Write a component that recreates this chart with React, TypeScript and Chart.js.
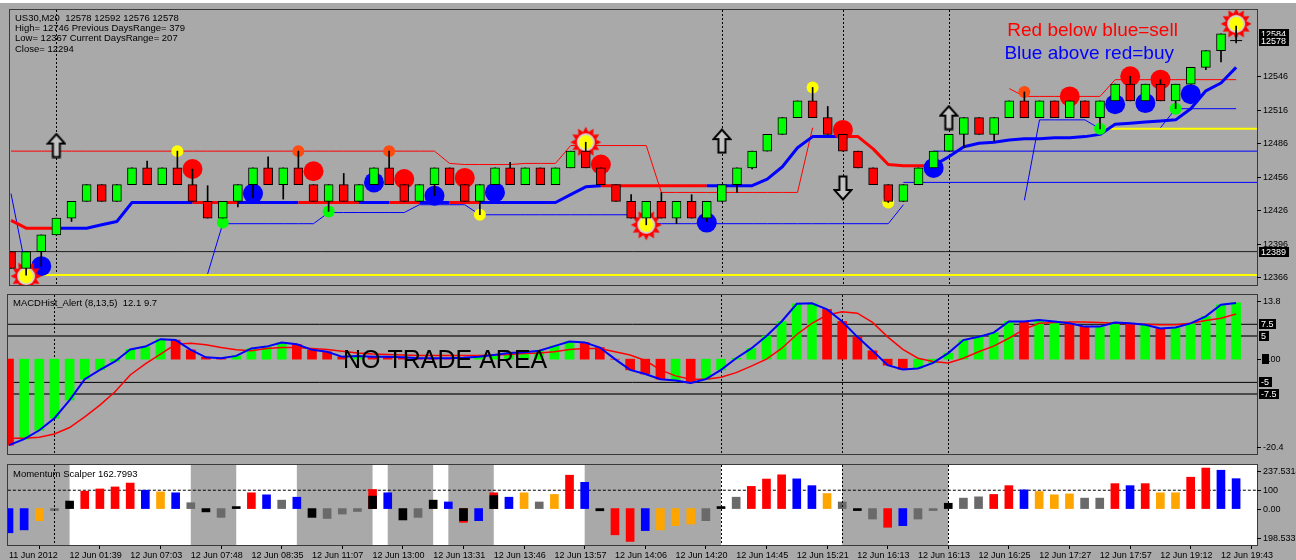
import React, { useEffect, useRef } from 'react';
import { Chart, registerables } from 'chart.js';

Chart.register(...registerables);

// ---------------- data ----------------
const candleOpen = [
  12389, 12374, 12389, 12404, 12419, 12434, 12449, 12434, 12449, 12464,
  12449, 12464, 12449, 12434, 12419, 12434, 12449, 12464, 12449, 12464,
  12449, 12434, 12449, 12434, 12449, 12464, 12449, 12434, 12449, 12464,
  12449, 12434, 12449, 12464, 12449, 12464, 12449, 12464, 12479, 12464,
  12449, 12434, 12419, 12434, 12419, 12434, 12419, 12434, 12449, 12464,
  12479, 12494, 12509, 12524, 12509, 12494, 12479, 12464, 12449, 12434,
  12449, 12464, 12479, 12494, 12509, 12494, 12509, 12524, 12509, 12524,
  12509, 12524, 12509, 12524, 12539, 12524, 12539, 12524, 12539, 12554,
  12569, 12578,
];
const candleClose = [
  12374, 12389, 12404, 12419, 12434, 12449, 12434, 12449, 12464, 12449,
  12464, 12449, 12434, 12419, 12434, 12449, 12464, 12449, 12464, 12449,
  12434, 12449, 12434, 12449, 12464, 12449, 12434, 12449, 12464, 12449,
  12434, 12449, 12464, 12449, 12464, 12449, 12464, 12479, 12464, 12449,
  12434, 12419, 12434, 12419, 12434, 12419, 12434, 12449, 12464, 12479,
  12494, 12509, 12524, 12509, 12494, 12479, 12464, 12449, 12434, 12449,
  12464, 12479, 12494, 12509, 12494, 12509, 12524, 12509, 12524, 12509,
  12524, 12509, 12524, 12539, 12524, 12539, 12524, 12539, 12554, 12569,
  12584, 12578,
];
const candleHigh = [
  12389, 12389, 12404, 12419, 12434, 12449, 12449, 12449, 12464, 12470,
  12464, 12479, 12463, 12448, 12434, 12449, 12464, 12474, 12464, 12479,
  12449, 12449, 12459, 12449, 12464, 12479, 12449, 12449, 12464, 12464,
  12449, 12449, 12464, 12469, 12464, 12464, 12464, 12479, 12487, 12464,
  12449, 12440, 12434, 12442, 12434, 12440, 12434, 12449, 12464, 12479,
  12494, 12509, 12524, 12536, 12519, 12494, 12479, 12464, 12449, 12449,
  12464, 12479, 12494, 12509, 12509, 12509, 12524, 12532, 12524, 12524,
  12524, 12524, 12524, 12539, 12546, 12539, 12543, 12539, 12554, 12569,
  12584, 12591,
];
const candleLow = [
  12374, 12368, 12376, 12404, 12416, 12434, 12434, 12434, 12449, 12449,
  12449, 12449, 12434, 12419, 12419, 12429, 12437, 12449, 12436, 12449,
  12434, 12425, 12434, 12434, 12449, 12449, 12434, 12434, 12439, 12449,
  12434, 12422, 12449, 12449, 12449, 12449, 12449, 12464, 12464, 12449,
  12434, 12419, 12413, 12419, 12414, 12419, 12416, 12434, 12442, 12463,
  12479, 12494, 12509, 12509, 12494, 12479, 12464, 12449, 12433, 12434,
  12449, 12464, 12479, 12482, 12494, 12488, 12509, 12509, 12509, 12509,
  12509, 12509, 12499, 12524, 12524, 12524, 12524, 12517, 12539, 12552,
  12559, 12576,
];
const trendLine = [
  12417, 12410, 12410, 12410, 12410, 12410, 12413, 12416, 12433, 12433,
  12433, 12433, 12433, 12433, 12433, 12433, 12433, 12433, 12433, 12433,
  12433, 12433, 12433, 12433, 12433, 12433, 12433, 12433, 12433, 12433,
  12433, 12433, 12433, 12433, 12433, 12433, 12433, 12440, 12447, 12448,
  12448, 12448, 12448, 12448, 12448, 12448, 12448, 12448, 12448, 12448,
  12454, 12465, 12482, 12492, 12492, 12492, 12492, 12481, 12467, 12466,
  12466, 12466, 12474, 12483, 12486, 12487, 12489, 12490, 12490, 12491,
  12491, 12492, 12494, 12503, 12504, 12505, 12506, 12507, 12517, 12533,
  12540, 12554,
];
// colour of each trend segment (bar i -> i+1): R red, B blue
const trendColor =
  'RRRBBBBBBB' + 'BBRRRBBBBR' + 'RRRBBRRBBR' + 'RBBBBBBBBR' + 'RRRRRRBBBB' +
  'BBBBBRRRRR' + 'RBBBBBBBBB' + 'BBBBBBBBBB' + 'BB';
const upperBand = [
  12479, 12479, 12479, 12479, 12479, 12479, 12479, 12479, 12479, 12479,
  12479, 12479, 12479, 12479, 12479, 12479, 12479, 12479, 12479, 12479,
  12479, 12479, 12479, 12479, 12479, 12479, 12479, 12479, 12479, 12468,
  12467, 12467, 12467, 12467, 12468, 12468, 12468, 12484, 12484, 12484,
  12484, 12484, 12484, 12442, 12442, 12442, 12442, 12442, 12442, 12442,
  12442, 12442, 12442, 12500, null, null, null, null, null, null,
  null, null, null, null, null, null, 12535, 12528, 12528, 12528,
  12528, 12528, 12528, 12543, 12543, 12543, 12543, 12543, 12543, 12543,
  12543, 12543,
];
const lowerBand = [
  12441, 12373, null, null, null, null, null, null, null, null,
  null, null, null, 12369, 12414, 12414, 12414, 12414, 12414, 12414,
  12414, 12424, 12424, 12424, 12424, 12424, 12424, 12431, 12431, 12431,
  12431, 12422, 12422, 12422, 12422, 12422, 12422, 12422, 12422, 12422,
  12422, 12422, 12414, 12414, 12414, 12414, 12414, 12414, 12414, 12414,
  12414, 12414, 12414, 12414, 12414, 12414, 12414, 12414, 12414, 12431,
  null, null, null, null, null, null, null, 12435, 12507, 12507,
  12507, 12507, 12499, null, null, null, 12500, 12517, 12517, 12517,
  12517, 12517,
];
const hLinePrice = [12389, 12368, 12499, 12451, 12479];
const hLineFromBar = [-1, 1, 72, 59, 61];
const redDotBars = [12, 20, 26, 30, 39, 55, 70, 74, 76];
const redDotPrice = [12463, 12461, 12454, 12455, 12467, 12498, 12528, 12546, 12543];
const blueDotBars = [2, 16, 24, 28, 32, 46, 61, 73, 75, 78];
const blueDotPrice = [12376, 12441, 12451, 12439, 12442, 12415, 12464, 12521, 12522, 12530];
const yellowDotBars = [11, 31, 53, 58];
const yellowDotPrice = [12479, 12422, 12536, 12433];
const orangeDotBars = [19, 25, 67];
const orangeDotPrice = [12479, 12479, 12532];
const greenDotBars = [14, 21, 72, 77];
const greenDotPrice = [12415, 12425, 12499, 12517];
const starBars = [1, 38, 42, 81];
const starPrice = [12367, 12487, 12413, 12593];
const upArrowBars = [3, 47, 62];
const upArrowPrice = [12484, 12488, 12509];
const downArrowBars = [55];
const downArrowPrice = [12446];
const priceTicks = [12366, 12396, 12426, 12456, 12486, 12516, 12546];
const priceTags = [12584, 12578, 12389];
const infoLines = [
  'US30,M20  12578 12592 12576 12578',
  'High= 12746 Previous DaysRange= 379',
  'Low= 12367 Current DaysRange= 207',
  'Close= 12294',
];

const macdMain = [
  -18.5, -17.2, -15.3, -12.7, -8.8, -4.3, -2.3, -0.5, 2.1, 2.7,
  4.3, 4.1, 2.0, 0.4, 0.2, 0.7, 2.3, 2.7, 3.6, 3.2,
  2.0, 1.6, 0.5, 0.7, 0.5, 0.5, 0.4, 0.2, 0.2, 0.2,
  0.3, 0.5, 0.9, 1.3, 1.5, 1.8, 2.8, 3.8, 3.6, 2.5,
  0.0, -2.3, -3.2, -4.3, -4.6, -5.1, -4.3, -2.3, 0.2, 2.3,
  5.0, 8.1, 11.9, 12.0, 10.7, 8.1, 4.8, 1.8, -1.3, -2.2,
  -2.0, -0.8, 1.3, 4.1, 4.8, 5.7, 8.1, 8.1, 8.4, 8.1,
  7.7, 7.0, 7.0, 7.9, 7.7, 7.4, 6.6, 6.8, 7.7, 9.2,
  11.7, 12.1,
];
const macdSignal = [
  -17.0, -17.0, -16.8, -16.1, -14.7, -12.4, -9.9, -7.0, -3.4, -1.0,
  1.1, 3.2, 3.4, 3.1, 2.5, 2.0, 1.8, 2.3, 2.5, 2.5,
  2.3, 2.1, 1.7, 1.3, 1.1, 1.0, 0.9, 0.8, 0.8, 0.8,
  0.8, 0.8, 0.9, 1.0, 1.2, 1.3, 1.6, 2.1, 2.3, 2.3,
  1.6, 0.9, -0.3, -2.3, -3.6, -4.3, -4.3, -3.9, -2.9, -1.5,
  0.0, 2.3, 5.3, 7.7, 9.5, 10.2, 9.9, 7.9, 4.8, 2.1,
  0.2, -0.5, -0.8, 0.2, 1.6, 2.8, 4.5, 6.4, 7.7, 7.9,
  8.0, 8.0, 7.9, 7.7, 7.6, 7.5, 7.4, 7.4, 7.7, 8.3,
  8.8, 9.7,
];
const macdHistColor =
  'RGGGGGGGGG' + 'GRRRRGGGGR' + 'RRRGRRRRRR' + 'GGGGGGGGRR' + 'RRRRGRGGGG' +
  'GGGGRRRRRR' + 'GGGGGGGRGG' + 'RRGGRGRGGG' + 'GG';
const macdLevels = [7.5, 5, -5, -7.5];
const macdTicks = [13.8, 0, -20.4];
const macdTickText = ['13.8', '0.00', '-20.4'];
const macdTitle = 'MACDHist_Alert (8,13,5)  12.1 9.7';

const momValue = [
  -132, -116, -66, -10, 41, 95, 107, 118, 139, 100,
  91, 86, 32, -18, -48, 8, 86, 75, 46, 62,
  -48, -54, -30, -16, 68, 86, -62, -48, 46, 36,
  -66, -66, 71, 62, 86, 36, 77, 182, 143, -12,
  -143, -179, -120, -116, -93, -84, -66, 5, 62, 121,
  161, 184, 162, 125, 82, 36, -5, -57, -102, -93,
  -57, -8, 29, 57, 64, 77, 125, 102, 93, 75,
  80, 57, 57, 136, 125, 136, 86, 86, 171, 221,
  209, 163,
];
// B blue, R red, O orange, G grey, K black
const momColor =
  'BBOGKRRRRB' + 'OBGKGKRBGB' + 'KGGGKBKGKB' + 'KBKBOGORBK' + 'RRBOOOGKGR' +
  'RRBBOGKGRB' + 'GGKGGRRBOO' + 'OGGRBROORR' + 'BB';
const momExtraBars = [24, 30, 32];
const momExtraValue = [104, -75, 86];
const momLevel = 100;
const momTicks = [237.5314, 100, 0, -198.533];
const momTickText = ['237.5314', '100', '0.00', '198.533'];
const momTitle = 'Momentum Scalper 162.7993';
const shadeFromBar = [4, 15, 24, 28, 32, 47, 62];
const shadeToBar = [12, 19, 25, 29, 38, 55, 83];

const timeTickBars = [0, 4, 8, 12, 16, 20, 24, 28, 32, 36, 40, 44, 48, 52, 56, 60, 64, 68, 72, 76, 80];
const timeLabels = [
  '11 Jun 2012', '12 Jun 01:39', '12 Jun 07:03', '12 Jun 07:48', '12 Jun 08:35',
  '12 Jun 11:07', '12 Jun 13:00', '12 Jun 13:31', '12 Jun 13:46', '12 Jun 13:57',
  '12 Jun 14:06', '12 Jun 14:20', '12 Jun 14:45', '12 Jun 15:21', '12 Jun 16:13',
  '12 Jun 16:13', '12 Jun 16:25', '12 Jun 17:27', '12 Jun 17:57', '12 Jun 19:12',
  '12 Jun 19:43',
];
const sessionBars = [3, 47, 55, 62];

// ---------------- styling / layout constants ----------------
const FONT = '"Liberation Sans", Arial, sans-serif';
const BG = '#a9a9a9';
const GREEN = '#00ff00';
const RED = '#ff0000';
const BLUE = '#0000ff';
const YELLOW = '#ffff00';
const X_MIN = -0.066;
const X_MAX = 82.38;
const hLineStyle = [
  { color: '#1e1e1e', width: 1 },
  { color: YELLOW, width: 2 },
  { color: YELLOW, width: 2 },
  { color: BLUE, width: 1 },
  { color: BLUE, width: 1 },
];
const macdLevelStyle = [
  { color: '#000000', width: 1 },
  { color: '#4a4a4a', width: 2 },
  { color: '#000000', width: 1 },
  { color: '#4a4a4a', width: 2 },
];
const topNotes = [
  { text: 'Red below blue=sell', bar: 65.87, value: 12581.8, color: RED, size: 19 },
  { text: 'Blue above red=buy', bar: 65.68, value: 12561.7, color: BLUE, size: 19 },
];
const macdNotes = [{ text: 'NO TRADE AREA', bar: 22.05, value: -1.96, color: '#000', size: 25 }];
const momColorMap: any = { B: BLUE, R: RED, O: '#ffa500', G: '#6a6a6a', K: '#000000' };

// ---------------- helpers ----------------
const pts = (bars: number[], vals: any[]) => bars.map((b, i) => ({ x: b, y: vals[i] }));
const series = (vals: any[]) => vals.map((v, i) => ({ x: i, y: v }));

function makeStar(): HTMLCanvasElement {
  const c = document.createElement('canvas');
  c.width = 32; c.height = 32;
  const g = c.getContext('2d')!;
  g.beginPath();
  const n = 12;
  for (let k = 0; k < n * 2; k++) {
    const ang = (k * Math.PI) / n - Math.PI / 2;
    const r = k % 2 === 0 ? 15.5 : 10.5;
    const px = 16 + r * Math.cos(ang), py = 16 + r * Math.sin(ang);
    if (k === 0) g.moveTo(px, py); else g.lineTo(px, py);
  }
  g.closePath();
  g.fillStyle = RED; g.fill();
  g.beginPath(); g.arc(16, 16, 9, 0, Math.PI * 2); g.fillStyle = '#d4d4d4'; g.fill();
  g.beginPath(); g.arc(16, 16, 7, 0, Math.PI * 2); g.fillStyle = YELLOW; g.fill();
  return c;
}

function makeArrow(up: boolean): HTMLCanvasElement {
  const c = document.createElement('canvas');
  c.width = 20; c.height = 26;
  const g = c.getContext('2d')!;
  const p = [[10, 1.5], [18.5, 11], [13.5, 11], [13.5, 24.5], [6.5, 24.5], [6.5, 11], [1.5, 11]];
  g.beginPath();
  p.forEach(([x, y], k) => {
    const yy = up ? y : 26 - y;
    if (k === 0) g.moveTo(x, yy); else g.lineTo(x, yy);
  });
  g.closePath();
  g.fillStyle = '#c4c4c4'; g.fill();
  g.lineWidth = 2; g.strokeStyle = '#000'; g.stroke();
  return c;
}

function drawAxisLabel(chart: any, value: number, text: string, mode: string) {
  const { ctx, chartArea: a } = chart;
  const y = chart.scales.y;
  let py = y.getPixelForValue(value);
  py = Math.min(Math.max(py, a.top + 6), a.bottom - 7);
  const ry = Math.round(py);
  ctx.save();
  ctx.font = `9px ${FONT}`;
  ctx.textBaseline = 'middle';
  ctx.textAlign = 'left';
  if (mode === 'box') {
    const w = ctx.measureText(text).width;
    ctx.fillStyle = '#000';
    ctx.fillRect(a.right + 2, ry - 5, Math.ceil(w) + 4, 10);
    ctx.fillStyle = '#fff';
    ctx.fillText(text, a.right + 4, ry + 0.5);
  } else {
    ctx.strokeStyle = '#000';
    ctx.lineWidth = 1;
    ctx.beginPath();
    ctx.moveTo(a.right, ry + 0.5);
    ctx.lineTo(a.right + 4, ry + 0.5);
    ctx.stroke();
    if (mode === 'zero') {
      const w0 = ctx.measureText('0').width;
      ctx.fillStyle = '#000';
      ctx.fillRect(a.right + 5, ry - 5, Math.ceil(w0) + 1, 10);
    }
    ctx.fillStyle = '#000';
    ctx.fillText(text, a.right + 6, ry + 0.5);
  }
  ctx.restore();
}

function framePlugin() {
  return {
    id: 'frame',
    afterDraw(chart: any) {
      const { ctx, chartArea: a } = chart;
      ctx.save();
      ctx.strokeStyle = '#3a3a3a';
      ctx.lineWidth = 1;
      ctx.strokeRect(Math.round(a.left) - 0.5, Math.round(a.top) - 0.5, Math.round(a.width) + 1, Math.round(a.height) + 1);
      ctx.restore();
    },
  };
}

function sessionPlugin(after: boolean) {
  const draw = (chart: any) => {
    const { ctx, chartArea: a } = chart;
    const x = chart.scales.x;
    ctx.save();
    ctx.beginPath();
    ctx.rect(a.left, a.top, a.width, a.height);
    ctx.clip();
    ctx.strokeStyle = '#000';
    ctx.lineWidth = 1;
    ctx.setLineDash([2, 2]);
    sessionBars.forEach((b) => {
      const px = Math.round(x.getPixelForValue(b)) + 0.5;
      ctx.beginPath();
      ctx.moveTo(px, a.top);
      ctx.lineTo(px, a.bottom);
      ctx.stroke();
    });
    ctx.restore();
  };
  return after ? { id: 'sessions', afterDatasetsDraw: draw } : { id: 'sessions', beforeDatasetsDraw: draw };
}

function notesPlugin(title: string[], notes: any[], titleDy: number) {
  return {
    id: 'notes',
    afterDraw(chart: any) {
      const { ctx, chartArea: a } = chart;
      const x = chart.scales.x, y = chart.scales.y;
      ctx.save();
      ctx.font = `9.5px ${FONT}`;
      ctx.fillStyle = '#000';
      ctx.textBaseline = 'middle';
      ctx.textAlign = 'left';
      title.forEach((t, k) => ctx.fillText(t, a.left + 5, a.top + titleDy + k * 10.3));
      notes.forEach((n) => {
        ctx.font = `${n.size}px ${FONT}`;
        ctx.fillStyle = n.color;
        ctx.textBaseline = 'alphabetic';
        ctx.fillText(n.text, x.getPixelForValue(n.bar), y.getPixelForValue(n.value));
      });
      ctx.restore();
    },
  };
}

const hiddenX = { type: 'linear', min: X_MIN, max: X_MAX, display: false, offset: false };
const common = {
  animation: false,
  responsive: false,
  devicePixelRatio: 1,
  events: [],
  plugins: { legend: { display: false }, tooltip: { enabled: false } },
};

function dotSet(bars: number[], vals: number[], color: string, r: number, order: number) {
  return {
    type: 'line', data: pts(bars, vals), showLine: false, order,
    pointRadius: r, pointHoverRadius: r, pointBackgroundColor: color, pointBorderColor: color, pointBorderWidth: 0,
  };
}

function topConfig(): any {
  const star = makeStar();
  const upA = makeArrow(true);
  const dnA = makeArrow(false);
  const bars = candleOpen.map((_, i) => i);
  const datasets: any[] = [];
  hLinePrice.forEach((p, k) => {
    datasets.push({
      type: 'line', data: [{ x: hLineFromBar[k], y: p }, { x: X_MAX + 1, y: p }],
      borderColor: hLineStyle[k].color, borderWidth: hLineStyle[k].width, pointRadius: 0, order: 40,
    });
  });
  datasets.push({ type: 'line', data: series(upperBand), borderColor: RED, borderWidth: 1, pointRadius: 0, order: 35 });
  datasets.push({ type: 'line', data: series(lowerBand), borderColor: BLUE, borderWidth: 1, pointRadius: 0, order: 35 });
  datasets.push({
    type: 'line', data: series(trendLine), borderColor: BLUE, borderWidth: 3, pointRadius: 0, order: 30,
    borderJoinStyle: 'round',
    segment: { borderColor: (c: any) => (trendColor[c.p0DataIndex] === 'R' ? RED : BLUE) },
  });
  datasets.push(dotSet(blueDotBars, blueDotPrice, BLUE, 10, 25));
  datasets.push(dotSet(redDotBars, redDotPrice, RED, 10, 25));
  datasets.push(dotSet(yellowDotBars, yellowDotPrice, YELLOW, 6, 20));
  datasets.push(dotSet(orangeDotBars, orangeDotPrice, '#ff4a10', 6, 20));
  datasets.push(dotSet(greenDotBars, greenDotPrice, GREEN, 6, 20));
  datasets.push({ type: 'line', data: pts(starBars, starPrice), showLine: false, pointStyle: star, pointRadius: 8, order: 18 });
  datasets.push({
    type: 'bar', data: bars.map((i) => ({ x: i, y: [candleLow[i], candleHigh[i]] })),
    backgroundColor: '#000', barThickness: 1, grouped: false, order: 10,
  });
  datasets.push({
    type: 'bar', data: bars.map((i) => ({ x: i, y: [candleOpen[i], candleClose[i]] })),
    backgroundColor: bars.map((i) => (candleClose[i] >= candleOpen[i] ? GREEN : RED)),
    borderColor: '#000', borderWidth: 1, borderSkipped: false, barThickness: 9, grouped: false, order: 8,
  });
  const dojiBars = bars.filter((i) => candleOpen[i] === candleClose[i]);
  datasets.push({
    type: 'line', data: dojiBars.map((i) => ({ x: i, y: candleClose[i] })), showLine: false,
    pointStyle: 'line', pointRadius: 6, pointBorderColor: '#000', pointBorderWidth: 1, order: 6,
  });
  datasets.push({ type: 'line', data: pts(upArrowBars, upArrowPrice), showLine: false, pointStyle: upA, pointRadius: 8, order: 2 });
  datasets.push({ type: 'line', data: pts(downArrowBars, downArrowPrice), showLine: false, pointStyle: dnA, pointRadius: 8, order: 2 });

  return {
    type: 'bar',
    data: { datasets },
    options: {
      ...common,
      layout: { padding: { left: 8, right: 39, top: 8, bottom: 2 } },
      scales: {
        x: hiddenX,
        y: { type: 'linear', min: 12359.1, max: 12605.4, display: false },
      },
    },
    plugins: [
      sessionPlugin(false),
      framePlugin(),
      notesPlugin(infoLines, topNotes, 8),
      {
        id: 'axis',
        afterDraw(chart: any) {
          priceTicks.forEach((v) => drawAxisLabel(chart, v, String(v), 'plain'));
          priceTags.forEach((v) => drawAxisLabel(chart, v, String(v), 'box'));
        },
      },
    ],
  };
}

function macdConfig(): any {
  const bars = macdMain.map((_, i) => i);
  const datasets: any[] = [];
  macdLevels.forEach((lv, k) => {
    datasets.push({
      type: 'line', data: [{ x: X_MIN - 1, y: lv }, { x: X_MAX + 1, y: lv }],
      borderColor: macdLevelStyle[k].color, borderWidth: macdLevelStyle[k].width, pointRadius: 0, order: 40,
    });
  });
  datasets.push({
    type: 'bar', data: series(macdMain),
    backgroundColor: bars.map((i) => (macdHistColor[i] === 'G' ? GREEN : RED)),
    barThickness: 9, grouped: false, order: 30,
  });
  datasets.push({ type: 'line', data: series(macdSignal), borderColor: RED, borderWidth: 1.5, pointRadius: 0, order: 10 });
  datasets.push({ type: 'line', data: series(macdMain), borderColor: BLUE, borderWidth: 2, pointRadius: 0, order: 5 });
  return {
    type: 'bar',
    data: { datasets },
    options: {
      ...common,
      layout: { padding: { left: 8, right: 39, top: 1, bottom: 2 } },
      scales: {
        x: hiddenX,
        y: { type: 'linear', min: -20.4, max: 13.8, display: false },
      },
    },
    plugins: [
      sessionPlugin(false),
      framePlugin(),
      notesPlugin([macdTitle], macdNotes, 8),
      {
        id: 'axis',
        afterDraw(chart: any) {
          macdTicks.forEach((v, k) => drawAxisLabel(chart, v, macdTickText[k], v === 0 ? 'zero' : 'plain'));
          macdLevels.forEach((v) => drawAxisLabel(chart, v, String(v), 'box'));
        },
      },
    ],
  };
}

function momConfig(): any {
  const bars = momValue.map((_, i) => i);
  const shade: any[] = [{ x: X_MIN - 1, y: 0 }];
  shadeFromBar.forEach((s, k) => {
    shade.push({ x: s, y: 1 });
    shade.push({ x: shadeToBar[k], y: 0 });
  });
  const datasets: any[] = [
    {
      type: 'line', yAxisID: 'yb', data: shade, stepped: true, fill: 'start',
      backgroundColor: '#ffffff', borderColor: 'rgba(0,0,0,0)', borderWidth: 0, pointRadius: 0, order: 100,
    },
    {
      type: 'line', data: [{ x: X_MIN - 1, y: momLevel }, { x: X_MAX + 1, y: momLevel }],
      borderColor: '#000', borderWidth: 1, borderDash: [3, 2], pointRadius: 0, order: 50,
    },
    {
      type: 'bar', data: pts(momExtraBars, momExtraValue), backgroundColor: RED,
      barThickness: 8, grouped: false, order: 20,
    },
    {
      type: 'bar', data: series(momValue), backgroundColor: bars.map((i) => momColorMap[momColor[i]]),
      barThickness: 8, grouped: false, minBarLength: 2, order: 10,
    },
  ];
  return {
    type: 'bar',
    data: { datasets },
    options: {
      ...common,
      layout: { padding: { left: 8, right: 39, top: 5, bottom: 0 } },
      scales: {
        x: {
          type: 'linear', min: X_MIN, max: X_MAX, offset: false, position: 'bottom',
          afterBuildTicks: (s: any) => { s.ticks = timeTickBars.map((v) => ({ value: v })); },
          afterFit: (s: any) => { s.height = 15; },
          ticks: {
            autoSkip: false, maxRotation: 0, minRotation: 0, align: 'start', padding: 1,
            color: '#000', font: { size: 9, family: FONT },
            callback: (_v: any, i: number) => timeLabels[i],
          },
          grid: { drawOnChartArea: false, drawTicks: true, tickLength: 4, color: '#000' },
          border: { display: false },
        },
        y: { type: 'linear', min: -198.533, max: 237.5314, display: false },
        yb: { type: 'linear', min: 0, max: 1, display: false },
      },
    },
    plugins: [
      sessionPlugin(true),
      framePlugin(),
      notesPlugin([momTitle], [], 9),
      {
        id: 'axis',
        afterDraw(chart: any) {
          momTicks.forEach((v, k) => drawAxisLabel(chart, v, momTickText[k], 'plain'));
        },
      },
    ],
  };
}

export default function App() {
  const r1 = useRef<HTMLCanvasElement>(null);
  const r2 = useRef<HTMLCanvasElement>(null);
  const r3 = useRef<HTMLCanvasElement>(null);
  useEffect(() => {
    const charts = [
      new Chart(r1.current as any, topConfig()),
      new Chart(r2.current as any, macdConfig()),
      new Chart(r3.current as any, momConfig()),
    ];
    return () => charts.forEach((c) => c.destroy());
  }, []);
  return (
    <div style={{ position: 'absolute', left: 0, top: 0, width: 1296, height: 560, background: BG, overflow: 'hidden' }}>
      <div style={{ position: 'absolute', left: 0, top: 0, width: 1296, height: 3, background: '#ffffff' }} />
      <canvas ref={r1} width={1296} height={295} style={{ position: 'absolute', left: 0, top: 0 }} />
      <canvas ref={r2} width={1296} height={162} style={{ position: 'absolute', left: 0, top: 294 }} />
      <canvas ref={r3} width={1296} height={100} style={{ position: 'absolute', left: 0, top: 460 }} />
    </div>
  );
}
